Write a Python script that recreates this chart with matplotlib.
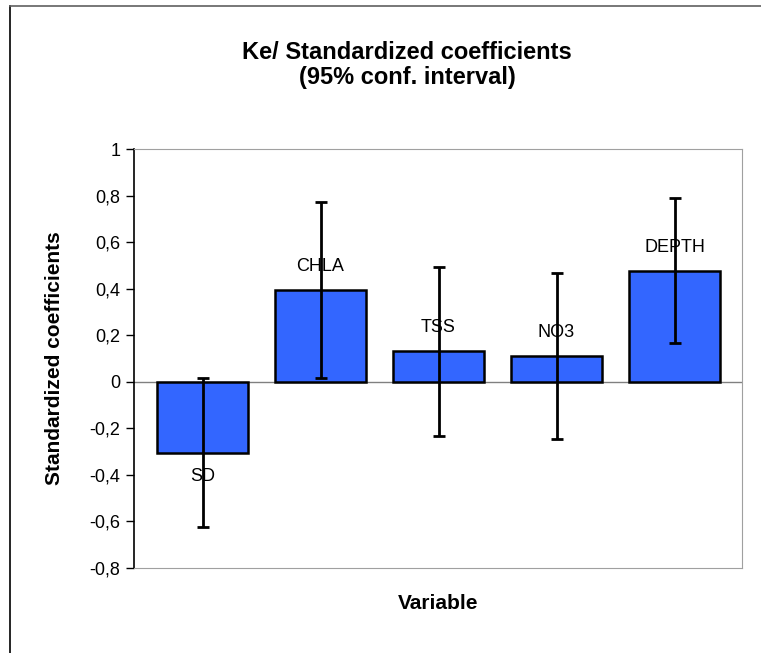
import matplotlib.pyplot as plt
from matplotlib.lines import Line2D

plt.rcParams['font.family'] = ['Liberation Sans', 'DejaVu Sans']

variables = ['SD', 'CHLA', 'TSS', 'NO3', 'DEPTH']
coefs = [-0.307, 0.393, 0.132, 0.110, 0.476]
ci_low = [-0.626, 0.015, -0.232, -0.246, 0.165]
ci_high = [0.015, 0.774, 0.494, 0.469, 0.788]
yticks = [-0.8, -0.6, -0.4, -0.2, 0, 0.2, 0.4, 0.6, 0.8, 1]

fig = plt.figure(figsize=(7.61, 6.53), dpi=100)
ax = fig.add_axes([0.1765, 0.1306, 0.7989, 0.6412])

x = list(range(len(variables)))
err = [[c - lo for c, lo in zip(coefs, ci_low)],
       [hi - c for c, hi in zip(coefs, ci_high)]]
ax.bar(x, coefs, width=0.77, color='#3366ff', edgecolor='black', linewidth=1.8, zorder=2)
ax.errorbar(x, coefs, yerr=err, fmt='none', ecolor='black', elinewidth=2,
            capsize=4.5, capthick=2, zorder=3)
ax.axhline(0, color='#808080', linewidth=1, zorder=1)

# noms des variables au bout des barres
for xi, c, name in zip(x, coefs, variables):
    if c >= 0:
        ax.annotate(name, (xi, c), xytext=(0, 11), textcoords='offset points',
                    ha='center', va='bottom', fontsize=13, zorder=4)
    else:
        ax.annotate(name, (xi, c), xytext=(0, -11), textcoords='offset points',
                    ha='center', va='top', fontsize=13, zorder=4)

ax.set_xlim(-0.578, 4.574)
ax.set_ylim(-0.8, 1)
ax.set_yticks(yticks)
ax.set_yticklabels([('%g' % t).replace('.', ',') for t in yticks], fontsize=13)
ax.set_xticks([])
ax.tick_params(axis='y', direction='out', length=6, width=1, pad=4)
for s in ['top', 'right', 'bottom']:
    ax.spines[s].set_color('#a0a0a0')
ax.spines['left'].set_color('black')
ax.spines['left'].set_linewidth(1.2)

ax.set_ylabel('Standardized coefficients', fontsize=15, fontweight='bold', labelpad=18)
ax.set_xlabel('Variable', fontsize=15, fontweight='bold', labelpad=19)

fig.text(407 / 761, 1 - 65 / 653, 'Ke/ Standardized coefficients\n(95% conf. interval)',
         ha='center', va='center', fontsize=17, fontweight='bold', linespacing=1.1)

# cadre du graphique (coupé à droite et en bas)
fx, fy = 9.5 / 761, 1 - 5.5 / 653
fig.add_artist(Line2D([fx, fx], [0, fy], color='black', linewidth=1.2))
fig.add_artist(Line2D([fx, 1], [fy, fy], color='#606060', linewidth=1.2))

fig.savefig('out.png', dpi=100)
